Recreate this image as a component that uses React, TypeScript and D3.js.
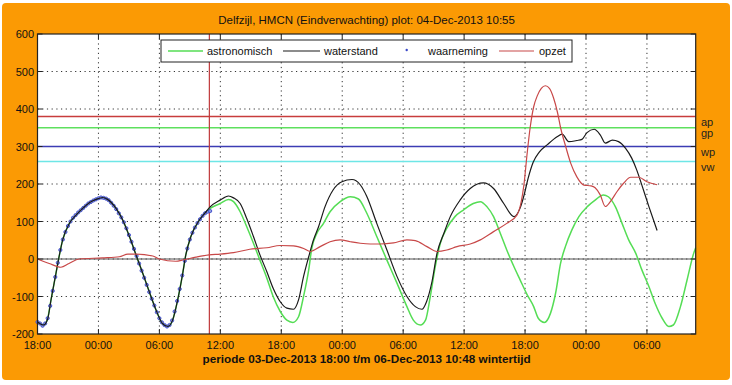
import React from "react";
import * as d3 from "d3";

// hours after 03-Dec-2013 18:00, water level in cm
const astronomisch: [number, number][] = [
  [0, -170], [0.6, -176], [1.0, -158], [1.33, -109], [1.82, -38], [2.08, 0], [2.48, 51], [3.14, 95],
  [3.79, 117], [4.45, 135], [5.1, 150], [5.76, 159], [6.42, 164], [6.9, 159], [7.73, 135], [8.39, 104],
  [9.05, 60], [9.7, 11], [10.36, -38], [11.0, -87], [11.67, -136], [12.3, -172], [12.83, -180],
  [13.3, -163], [13.8, -109], [14.3, -38], [14.6, 11], [15.1, 60], [15.94, 104], [16.6, 126],
  [17.0, 135], [17.98, 148], [18.8, 159], [19.3, 153], [19.95, 126], [20.6, 86], [21.26, 42],
  [21.9, -3], [22.58, -51], [23.2, -100], [23.9, -140], [24.55, -163], [25.14, -169], [25.7, -154],
  [26.19, -100], [26.7, -29], [27.0, 28], [27.5, 68], [28.16, 95], [28.8, 126], [29.8, 153],
  [30.8, 166], [31.6, 160], [32.35, 126], [33.4, 60], [34.4, -3], [35.4, -65], [36.37, -127],
  [37.0, -163], [37.7, -176], [38.2, -163], [38.67, -100], [39.16, -20], [39.66, 42], [40.3, 82],
  [41.1, 113], [41.95, 131], [42.9, 148], [43.6, 153], [44.26, 139], [44.9, 113], [45.57, 68],
  [46.2, 24], [46.9, -20], [47.5, -55], [48.2, -95], [48.85, -127], [49.3, -158], [49.9, -169],
  [50.5, -145], [51.0, -92], [51.5, -11], [51.97, 33], [52.6, 77], [53.3, 113], [54.1, 139],
  [54.9, 157], [55.7, 171], [56.2, 166], [56.9, 139], [57.55, 95], [58.2, 51], [58.9, 15],
  [59.5, -29], [60.2, -74], [60.8, -118], [61.5, -158], [62.15, -180], [62.6, -176], [63.3, -127],
  [63.95, -56], [64.6, 15], [64.8, 30],
];

const waterstand: [number, number][] = [
  [0, -168], [0.6, -176], [1.0, -160], [1.33, -109], [1.82, -38], [2.08, 0], [2.48, 51], [3.14, 95],
  [3.79, 117], [4.45, 135], [5.1, 150], [5.76, 159], [6.42, 164], [6.9, 159], [7.73, 135], [8.39, 104],
  [9.05, 60], [9.7, 11], [10.36, -38], [11.0, -87], [11.67, -136], [12.3, -172], [12.83, -180],
  [13.3, -163], [13.8, -109], [14.3, -38], [14.6, 11], [15.1, 60], [15.94, 104], [16.6, 126],
  [17.0, 139], [17.98, 157], [18.8, 168], [19.3, 163], [19.95, 148], [20.6, 108], [21.26, 60],
  [21.9, 11], [22.58, -34], [23.2, -78], [23.9, -114], [24.55, -131], [25.2, -134], [25.7, -109],
  [26.19, -47], [26.7, 6], [27.17, 51], [27.67, 86], [28.3, 139], [29.1, 184], [29.97, 206],
  [30.96, 212], [31.77, 198], [32.4, 168], [33.4, 95], [34.4, 24], [35.4, -47], [36.37, -100],
  [37.2, -127], [37.85, -134], [38.3, -114], [38.84, -60], [39.33, 15], [40.0, 68], [40.64, 113],
  [41.6, 157], [42.6, 188], [43.9, 203], [44.9, 188], [45.9, 148], [46.9, 113], [47.5, 135],
  [47.9, 170], [48.3, 215], [48.8, 258], [49.4, 285], [50.2, 305], [51.15, 326], [51.65, 333],
  [52.3, 313], [53.1, 316], [53.6, 319], [54.1, 337], [54.8, 346], [55.4, 331], [55.9, 309],
  [56.6, 317], [57.2, 313], [57.9, 295], [58.5, 269], [59.0, 237], [59.5, 197], [60.2, 139],
  [61.0, 76],
];

// observations, every quarter hour
const waarnemingStart = 0;
const waarnemingStep = 0.25;
const waarneming = [
  -168, -172, -178, -172, -158, -125, -85, -48, -10, 24, 52, 72, 88, 100, 110, 117,
  124, 130, 136, 142, 148, 152, 156, 159, 162, 164, 163, 161, 157, 150, 142, 133,
  122, 111, 98, 82, 64, 46, 27, 8, -12, -31, -50, -69, -88, -106, -124, -142,
  -158, -169, -176, -180, -176, -164, -140, -112, -80, -44, -5, 28, 52, 70, 84, 96,
  106, 115, 122, 126, 128,
];

const opzet: [number, number][] = [
  [0, 0], [1.16, -12], [2.3, -22], [3.1, -12], [4.1, 0], [6.4, 3], [8.06, 6], [8.9, 13], [9.7, 13],
  [11.35, 8], [12.0, 0], [13.6, -6], [14.4, -2], [15.6, 5], [16.9, 11], [17.98, 13], [19.3, 17],
  [20.9, 26], [22.58, 30], [23.9, 36], [25.2, 35], [26.2, 28], [26.85, 20], [27.83, 33], [28.8, 46],
  [29.8, 51], [30.8, 46], [31.77, 42], [32.76, 40], [33.74, 40], [35.05, 43], [36.37, 51], [37.2, 49],
  [38.34, 33], [39.33, 20], [40.3, 24], [41.3, 33], [42.6, 40], [43.6, 51], [44.9, 73], [46.2, 95],
  [47.2, 117], [47.6, 150], [47.9, 200], [48.2, 280], [48.5, 350], [48.85, 406], [49.2, 435],
  [49.6, 455], [50.0, 462], [50.4, 455], [50.8, 430], [51.2, 390], [51.5, 350], [52.0, 300],
  [52.5, 255], [53.1, 219], [53.8, 197], [54.5, 195], [54.9, 190], [55.4, 171], [55.9, 140],
  [56.4, 153], [57.06, 180], [57.7, 202], [58.4, 218], [59.2, 218], [60.0, 206], [61.0, 198],
];

const levelNames = ["ap", "gp", "wp", "vw"];
const levelValues = [380, 350, 300, 260];
const levelColors = ["#c83c3c", "#5ee05e", "#3c3cb4", "#6ee6e6"];

const yTicks = [-200, -100, 0, 100, 200, 300, 400, 500, 600];
const START = new Date(2013, 11, 3, 18, 0);
const END = new Date(2013, 11, 6, 10, 48);
const NOW_HOURS = 16.92; // plot time 04-Dec 10:55

const W = 732;
const H = 385;
const left = 37.5;
const right = 695.7;
const top = 34;
const bottom = 334;
const font = "'Liberation Sans', Arial, sans-serif";

const toDate = (h: number) => new Date(START.getTime() + h * 3600000);

export default function App() {
  const x = d3.scaleTime().domain([START, END]).range([left, right]);
  const y = d3.scaleLinear().domain([-200, 600]).range([bottom, top]);
  const xTicks = x.ticks(d3.timeHour.every(6) as any);
  const fmt = d3.timeFormat("%H:%M");

  const line = d3
    .line<[number, number]>()
    .x((d) => x(toDate(d[0])))
    .y((d) => y(d[1]))
    .curve(d3.curveMonotoneX);

  const nowX = x(toDate(NOW_HOURS));

  return (
    <svg width={W} height={H} style={{ position: "absolute", left: 0, top: 0 }} fontFamily={font}>
      <rect x={0} y={0} width={W} height={H} fill="#fff" />
      <rect x={2} y={3} width={728} height={377} rx={4} fill="#fb9a04" />
      <text x={(left + right) / 2} y={24} textAnchor="middle" fontSize={11.5} fill="#111">
        Delfzijl, HMCN (Eindverwachting) plot: 04-Dec-2013 10:55
      </text>

      <rect x={left} y={top} width={right - left} height={bottom - top} fill="#fff" />

      {/* grid */}
      {yTicks.slice(1, -1).map((t) => (
        <line key={"gy" + t} x1={left} x2={right} y1={y(t)} y2={y(t)} stroke="#333" strokeWidth={1} strokeDasharray="1.2,3.5" />
      ))}
      {xTicks.slice(1).map((t, i) => (
        <line key={"gx" + i} x1={x(t)} x2={x(t)} y1={top} y2={bottom} stroke="#333" strokeWidth={1} strokeDasharray="1.2,3.5" />
      ))}

      {/* alarm levels */}
      {levelValues.map((v, i) => (
        <line key={"lv" + i} x1={left} x2={right} y1={y(v)} y2={y(v)} stroke={levelColors[i]} strokeWidth={1.6} />
      ))}
      {levelNames.map((n, i) => (
        <text key={"ln" + i} x={701} y={y(levelValues[i]) + 9} fontSize={11} fill="#222">
          {n}
        </text>
      ))}

      <line x1={left} x2={right} y1={y(0)} y2={y(0)} stroke="#555" strokeWidth={1.2} />
      <line x1={nowX} x2={nowX} y1={top} y2={bottom} stroke="#c0393b" strokeWidth={1.2} />

      <path d={line(astronomisch) ?? ""} fill="none" stroke="#55dd55" strokeWidth={1.5} />
      {waarneming.map((v, i) => (
        <circle key={"w" + i} cx={x(toDate(waarnemingStart + i * waarnemingStep))} cy={y(v)} r={1.6} fill="#8f9ae0" stroke="#3a48c8" strokeWidth={0.9} />
      ))}
      <path d={line(waterstand) ?? ""} fill="none" stroke="#1a1a1a" strokeWidth={1.2} />
      <path d={line(opzet) ?? ""} fill="none" stroke="#c84848" strokeWidth={1.2} />

      {/* frame and ticks */}
      <rect x={left} y={top} width={right - left} height={bottom - top} fill="none" stroke="#222" strokeWidth={1.2} />
      {xTicks.map((t, i) => (
        <g key={"xt" + i}>
          <line x1={x(t)} x2={x(t)} y1={bottom} y2={bottom - 5} stroke="#222" />
          <line x1={x(t)} x2={x(t)} y1={top} y2={top + 5} stroke="#222" />
          <text x={x(t)} y={349} textAnchor="middle" fontSize={11} fill="#111">
            {fmt(t)}
          </text>
        </g>
      ))}
      {yTicks.map((t) => (
        <g key={"yt" + t}>
          <line x1={left} x2={left + 5} y1={y(t)} y2={y(t)} stroke="#222" />
          <line x1={right} x2={right - 5} y1={y(t)} y2={y(t)} stroke="#222" />
          <text x={34} y={y(t) + 4} textAnchor="end" fontSize={11} fill="#111">
            {t}
          </text>
        </g>
      ))}

      <text x={(left + right) / 2} y={363} textAnchor="middle" fontSize={11} fontWeight="bold" fill="#111" textLength={328} lengthAdjust="spacingAndGlyphs">
        periode 03-Dec-2013 18:00 t/m 06-Dec-2013 10:48 wintertijd
      </text>

      {/* legend */}
      <rect x={161} y={40} width={411} height={22} fill="#fff" stroke="#222" strokeWidth={1} />
      <line x1={168} x2={203} y1={51} y2={51} stroke="#55dd55" strokeWidth={1.5} />
      <text x={207} y={55} fontSize={11} fill="#111">astronomisch</text>
      <line x1={283} x2={320} y1={51} y2={51} stroke="#1a1a1a" strokeWidth={1.2} />
      <text x={324} y={55} fontSize={11} fill="#111">waterstand</text>
      <circle cx={406.7} cy={50} r={1.2} fill="#3a48c8" />
      <text x={428} y={55} fontSize={11} fill="#111">waarneming</text>
      <line x1={499} x2={534} y1={51} y2={51} stroke="#c84848" strokeWidth={1.2} />
      <text x={539} y={55} fontSize={11} fill="#111">opzet</text>
    </svg>
  );
}
